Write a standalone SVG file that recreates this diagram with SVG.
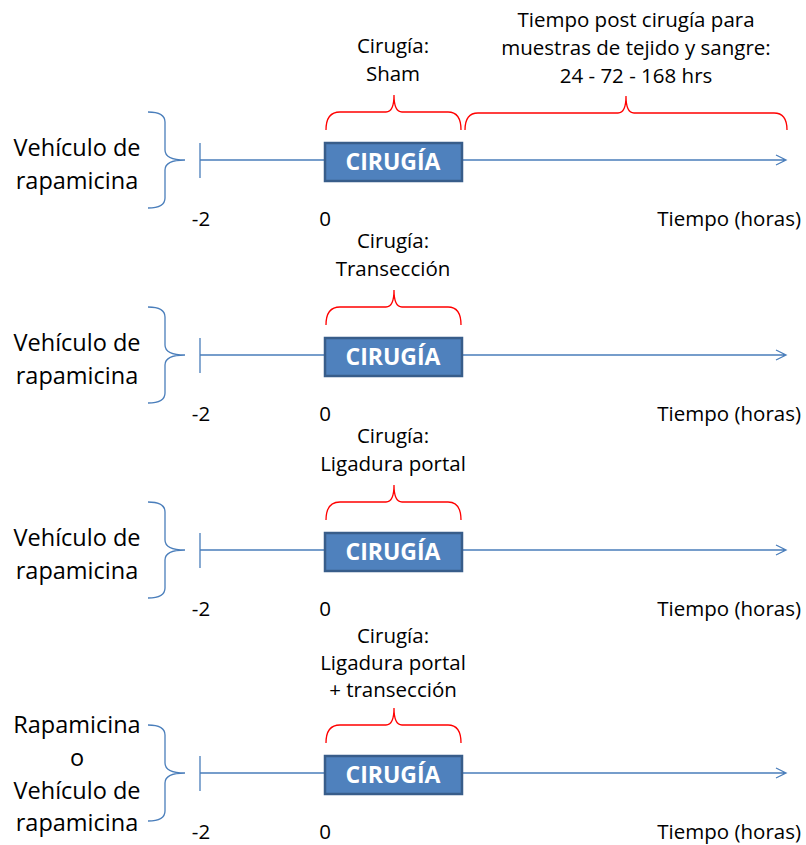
<svg xmlns="http://www.w3.org/2000/svg" width="806" height="845" viewBox="0 0 806 845">
<style>
text{font-family:"Open Sans","Noto Sans","Liberation Sans",sans-serif;fill:#000}
.lbl{font-size:23.5px;text-anchor:middle}
.ax{font-size:20.5px}
.top{font-size:20.5px;text-anchor:middle}
.box{fill:#4f81bd;stroke:#385d8a;stroke-width:2.5}
.bt{font-size:23px;font-weight:bold;fill:#fff;text-anchor:middle}
.tl{fill:none;stroke:#4a7ebb;stroke-width:1.3}
.br{fill:none;stroke:#4a7ebb;stroke-width:1.3}
.rb{fill:none;stroke:#ff0000;stroke-width:1.3}
</style>
<rect width="806" height="845" fill="#fff"/>
<g id="connectors">
  <g transform="translate(0,0)"><path class="tl" d="M200,143 V178 M200,160 H785 M776,155 L786,160 L776,165"/></g>
  <g transform="translate(0,195)"><path class="tl" d="M200,143 V178 M200,160 H785 M776,155 L786,160 L776,165"/></g>
  <g transform="translate(0,390)"><path class="tl" d="M200,143 V178 M200,160 H785 M776,155 L786,160 L776,165"/></g>
  <g transform="translate(0,613)"><path class="tl" d="M200,143 V178 M200,160 H785 M776,155 L786,160 L776,165"/></g>
</g>
<g id="row1">
  <path class="br" d="M148,112 Q165,112 165,122 L165,150 Q165,160 185,160 Q165,160 165,170 L165,198 Q165,208 148,208"/>
  <text class="lbl" x="77" y="156">Vehículo de</text>
  <text class="lbl" x="77" y="189">rapamicina</text>
  <path class="rb" d="M326,130 Q326,112 340,112 L386,112 Q394,112 394,95 Q394,112 402,112 L448,112 Q461,112 461,130"/>
  <path class="rb" d="M465,130 Q465,113 478,113 L618,113 Q626,113 626,96 Q626,113 634,113 L774,113 Q787,113 787,130"/>
  <text class="top" x="393" y="53">Cirugía:</text>
  <text class="top" x="393" y="81">Sham</text>
  <text class="top" x="636" y="27">Tiempo post cirugía para</text>
  <text class="top" x="636" y="55">muestras de tejido y sangre:</text>
  <text class="top" x="636" y="83">24 - 72 - 168 hrs</text>
  <rect class="box" x="325" y="143" width="137" height="38"/>
  <text class="bt" x="393" y="170">CIRUGÍA</text>
  <text class="ax" x="201" y="226" text-anchor="middle">-2</text>
  <text class="ax" x="325" y="226" text-anchor="middle">0</text>
  <text class="ax" x="801" y="226" text-anchor="end">Tiempo (horas)</text>
</g>
<g id="row2" transform="translate(0,195)">
  <path class="br" d="M148,112 Q165,112 165,122 L165,150 Q165,160 185,160 Q165,160 165,170 L165,198 Q165,208 148,208"/>
  <text class="lbl" x="77" y="156">Vehículo de</text>
  <text class="lbl" x="77" y="189">rapamicina</text>
  <path class="rb" d="M326,130 Q326,112 340,112 L386,112 Q394,112 394,95 Q394,112 402,112 L448,112 Q461,112 461,130"/>
  <text class="top" x="393" y="53">Cirugía:</text>
  <text class="top" x="393" y="81">Transección</text>
  <rect class="box" x="325" y="143" width="137" height="38"/>
  <text class="bt" x="393" y="170">CIRUGÍA</text>
  <text class="ax" x="201" y="226" text-anchor="middle">-2</text>
  <text class="ax" x="325" y="226" text-anchor="middle">0</text>
  <text class="ax" x="801" y="226" text-anchor="end">Tiempo (horas)</text>
</g>
<g id="row3" transform="translate(0,390)">
  <path class="br" d="M148,112 Q165,112 165,122 L165,150 Q165,160 185,160 Q165,160 165,170 L165,198 Q165,208 148,208"/>
  <text class="lbl" x="77" y="156">Vehículo de</text>
  <text class="lbl" x="77" y="189">rapamicina</text>
  <path class="rb" d="M326,130 Q326,112 340,112 L386,112 Q394,112 394,95 Q394,112 402,112 L448,112 Q461,112 461,130"/>
  <text class="top" x="393" y="53">Cirugía:</text>
  <text class="top" x="393" y="81">Ligadura portal</text>
  <rect class="box" x="325" y="143" width="137" height="38"/>
  <text class="bt" x="393" y="170">CIRUGÍA</text>
  <text class="ax" x="201" y="226" text-anchor="middle">-2</text>
  <text class="ax" x="325" y="226" text-anchor="middle">0</text>
  <text class="ax" x="801" y="226" text-anchor="end">Tiempo (horas)</text>
</g>
<g id="row4" transform="translate(0,613)">
  <path class="br" d="M148,112 Q165,112 165,122 L165,150 Q165,160 185,160 Q165,160 165,170 L165,198 Q165,208 148,208"/>
  <text class="lbl" x="77" y="120">Rapamicina</text>
  <text class="lbl" x="77" y="153">o</text>
  <text class="lbl" x="77" y="186">Vehículo de</text>
  <text class="lbl" x="77" y="218">rapamicina</text>
  <path class="rb" d="M326,130 Q326,112 340,112 L386,112 Q394,112 394,95 Q394,112 402,112 L448,112 Q461,112 461,130"/>
  <text class="top" x="393" y="30">Cirugía:</text>
  <text class="top" x="393" y="57">Ligadura portal</text>
  <text class="top" x="393" y="84">+ transección</text>
  <rect class="box" x="325" y="143" width="137" height="38"/>
  <text class="bt" x="393" y="170">CIRUGÍA</text>
  <text class="ax" x="201" y="226" text-anchor="middle">-2</text>
  <text class="ax" x="325" y="226" text-anchor="middle">0</text>
  <text class="ax" x="801" y="226" text-anchor="end">Tiempo (horas)</text>
</g>
</svg>
